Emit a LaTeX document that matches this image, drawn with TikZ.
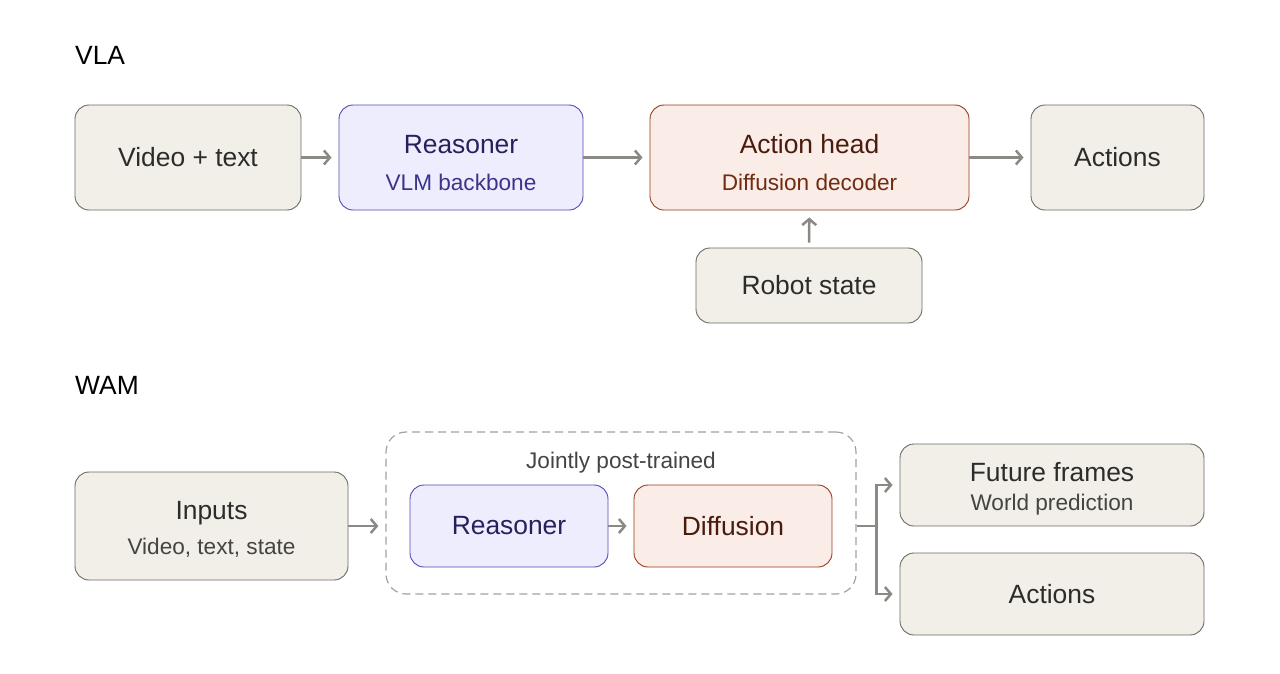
\documentclass[tikz,border=0pt]{standalone}
\usepackage{fontspec}
\setmainfont{Liberation Sans}
\usetikzlibrary{arrows.meta,positioning}

\definecolor{boxfill}{HTML}{F1EFE8}
\definecolor{boxdraw}{HTML}{6B6A65}
\definecolor{boxtext}{HTML}{2C2C2A}
\definecolor{boxsub}{HTML}{444441}
\definecolor{purfill}{HTML}{EEEDFE}
\definecolor{purdraw}{HTML}{534AB7}
\definecolor{purtext}{HTML}{26215C}
\definecolor{pursub}{HTML}{3C3489}
\definecolor{corfill}{HTML}{FAECE7}
\definecolor{cordraw}{HTML}{993C1D}
\definecolor{cortext}{HTML}{4A1B0C}
\definecolor{corsub}{HTML}{712B13}
\definecolor{arrgray}{HTML}{8A8984}
\definecolor{dashgray}{HTML}{A3A29C}

\newcommand{\subsize}{\fontsize{22.6}{26}\selectfont}
\newcommand{\topstrut}[1]{\rule{0pt}{#1}}

\tikzset{
  block/.style={draw, rounded corners=14pt, line width=0.9pt, align=center,
    inner sep=0pt, font=\fontsize{26.4}{30}\selectfont},
  graybox/.style={block, fill=boxfill, draw=boxdraw, text=boxtext},
  purbox/.style={block, fill=purfill, draw=purdraw, text=purtext},
  corbox/.style={block, fill=corfill, draw=cordraw, text=cortext},
  arr/.style={draw=arrgray, line width=2.5pt,
    -{Straight Barb[length=6pt, width=14pt]}, shorten >=7pt},
  title/.style={anchor=west, inner sep=0pt, font=\fontsize{26.4}{30}\selectfont, text=black}
}

\begin{document}
\begin{tikzpicture}[x=1pt, y=-1pt]
  \useasboundingbox (0,0) rectangle (1280,673);
  \fill[white] (0,0) rectangle (1280,673);

  % VLA row
  \node[title] (vlatitle) at (75,55) {VLA};
  \node[graybox, minimum width=226pt, minimum height=105pt] (vtext) at (188,157.5) {Video + text};
  \node[purbox, minimum width=244pt, minimum height=105pt] (reas) at (461,157.5)
    {\topstrut{29pt}Reasoner\\[7pt]{\subsize\color{pursub}VLM backbone}};
  \node[corbox, minimum width=319pt, minimum height=105pt] (ahead) at (809.5,157.5)
    {\topstrut{29pt}Action head\\[7pt]{\subsize\color{corsub}Diffusion decoder}};
  \node[graybox, minimum width=173pt, minimum height=105pt] (act) at (1117.5,157.5) {Actions};
  \node[graybox, minimum width=226pt, minimum height=75pt] (rstate) at (809,285.5) {Robot state};

  \draw[arr] (vtext) -- (reas);
  \draw[arr] (reas) -- (ahead);
  \draw[arr] (ahead) -- (act);
  \draw[arr, shorten <=5pt] (rstate) -- (ahead);

  % WAM row
  \node[title] (wamtitle) at (75,385) {WAM};
  \node[graybox, minimum width=273pt, minimum height=108pt] (inp) at (211.5,526)
    {\topstrut{25pt}Inputs\\[5pt]{\subsize\color{boxsub}Video, text, state}};
  \node[draw=dashgray, dash pattern=on 8pt off 5pt, line width=1.2pt, rounded corners=20pt,
    minimum width=470pt, minimum height=162pt] (joint) at (621,513) {};
  \node[text=boxsub, font=\subsize] (jlabel) at (621,463) {Jointly post-trained};
  \node[purbox, minimum width=198pt, minimum height=82pt] (reas2) at (509,526) {Reasoner};
  \node[corbox, minimum width=198pt, minimum height=82pt] (diff) at (733,526) {Diffusion};
  \node[graybox, minimum width=304pt, minimum height=82pt] (fut) at (1052,485)
    {\topstrut{26pt}Future frames\\[-1pt]{\subsize\color{boxsub}World prediction}};
  \node[graybox, minimum width=304pt, minimum height=82pt] (act2) at (1052,594) {Actions};

  \draw[arr] (inp.east |- reas2) -- (joint.west |- reas2);
  \draw[arr] (reas2) -- (diff);
  \coordinate (split) at ([xshift=20pt]joint.east |- diff);
  \draw[draw=arrgray, line width=2.5pt] (joint.east |- diff) -- (split);
  \draw[arr] (split) |- (fut.west);
  \draw[arr] (split) |- (act2.west);
\end{tikzpicture}
\end{document}
